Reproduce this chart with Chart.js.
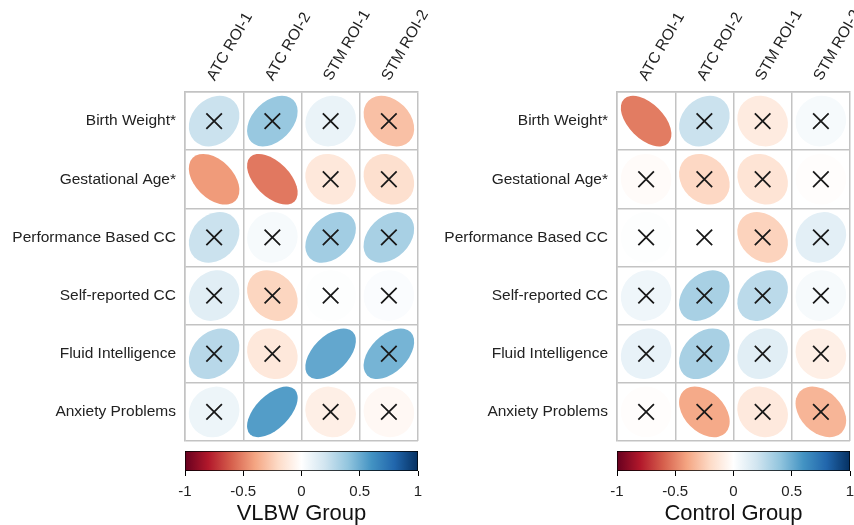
<!DOCTYPE html>
<html>
<head>
<meta charset="utf-8">
<script src="https://cdn.jsdelivr.net/npm/chart.js@4.4.1/dist/chart.umd.min.js"></script>
<style>
  html, body { margin: 0; padding: 0; background: #fff; }
  #wrap { position: relative; width: 854px; height: 525px; overflow: hidden; }
  canvas { position: absolute; }
</style>
</head>
<body>
<div id="wrap">
  <canvas id="vlbwGrid" width="430" height="445" style="left:0;top:0"></canvas>
  <canvas id="controlGrid" width="424" height="445" style="left:430px;top:0"></canvas>
  <canvas id="vlbwBar" width="430" height="80" style="left:0;top:445px"></canvas>
  <canvas id="controlBar" width="424" height="80" style="left:430px;top:445px"></canvas>
</div>
<script>
const rowLabels = ['Birth Weight*', 'Gestational Age*', 'Performance Based CC', 'Self-reported CC', 'Fluid Intelligence', 'Anxiety Problems'];
const colLabels = ['ATC ROI-1', 'ATC ROI-2', 'STM ROI-1', 'STM ROI-2'];

// correlations, one row per measure
const vlbwCorr = [
  [0.22, 0.38, 0.09, -0.30],
  [-0.43, -0.53, -0.13, -0.17],
  [0.22, 0.04, 0.35, 0.33],
  [0.13, -0.22, 0.01, 0.02],
  [0.28, -0.13, 0.52, 0.47],
  [0.08, 0.56, -0.09, -0.04]
];
const vlbwNotSig = [
  [1, 1, 1, 1],
  [0, 0, 1, 1],
  [1, 1, 1, 1],
  [1, 1, 1, 1],
  [1, 1, 0, 1],
  [1, 0, 1, 1]
];
const controlCorr = [
  [-0.52, 0.22, -0.11, 0.04],
  [-0.02, -0.21, -0.15, -0.01],
  [0.01, 0.00, -0.23, 0.12],
  [0.07, 0.33, 0.27, 0.04],
  [0.10, 0.33, 0.13, -0.09],
  [-0.01, -0.38, -0.12, -0.34]
];
const controlNotSig = [
  [0, 1, 1, 1],
  [1, 1, 1, 1],
  [1, 1, 1, 1],
  [1, 1, 1, 1],
  [1, 1, 1, 1],
  [1, 1, 1, 1]
];
const scaleTicks = [-1, -0.5, 0, 0.5, 1];

const rdbu = ['#67001F', '#B2182B', '#D6604D', '#F4A582', '#FDDBC7', '#FFFFFF',
              '#D1E5F0', '#92C5DE', '#4393C3', '#2166AC', '#053061'];
const FONT = '"Liberation Sans", Arial, sans-serif';
const GRID = '#c3c3c3';

function hexRgb(h) {
  return [1, 3, 5].map(i => parseInt(h.substr(i, 2), 16));
}
function colorFor(r) {
  const t = (Math.max(-1, Math.min(1, r)) + 1) / 2 * (rdbu.length - 1);
  const i = Math.min(Math.floor(t), rdbu.length - 2);
  const f = t - i;
  const a = hexRgb(rdbu[i]), b = hexRgb(rdbu[i + 1]);
  const c = a.map((v, k) => Math.round(v + (b[k] - v) * f));
  return 'rgb(' + c.join(',') + ')';
}

// corrplot-style ellipses, drawn under the crosses
const ellipsePlugin = {
  id: 'corrEllipses',
  beforeDatasetsDraw(chart) {
    const meta = chart.getDatasetMeta(0);
    const xs = chart.scales.x, ys = chart.scales.y;
    const cw = Math.abs(xs.getPixelForValue(1) - xs.getPixelForValue(0));
    const ch = Math.abs(ys.getPixelForValue(1) - ys.getPixelForValue(0));
    const s = Math.min(cw, ch) * 0.87;
    const ctx = chart.ctx;
    meta.data.forEach((pt, i) => {
      const r = chart.data.datasets[0].data[i].v;
      const a = Math.acos(Math.abs(r)) / 2;
      const major = Math.cos(a) / Math.SQRT2 * s;
      const minor = Math.sin(a) / Math.SQRT2 * s;
      ctx.save();
      ctx.fillStyle = colorFor(r);
      ctx.beginPath();
      ctx.ellipse(pt.x, pt.y, major, minor, r >= 0 ? -Math.PI / 4 : Math.PI / 4, 0, 2 * Math.PI);
      ctx.fill();
      ctx.restore();
    });
  }
};

function makeGrid(id, corr, notSig, axisWidth, padRight) {
  const cells = [], crosses = [];
  corr.forEach((row, i) => row.forEach((v, j) => {
    cells.push({ x: colLabels[j], y: rowLabels[i], v: v });
    if (notSig[i][j]) crosses.push({ x: colLabels[j], y: rowLabels[i] });
  }));
  new Chart(document.getElementById(id), {
    type: 'scatter',
    data: {
      datasets: [
        { data: cells, pointRadius: 0 },
        { data: crosses, pointStyle: 'crossRot', pointRadius: 11, borderColor: '#1a1a1a', borderWidth: 1.8 }
      ]
    },
    options: {
      responsive: false,
      animation: false,
      events: [],
      layout: { autoPadding: false, padding: { left: 0, right: padRight, top: 0, bottom: 4 } },
      plugins: { legend: { display: false }, tooltip: { enabled: false } },
      scales: {
        x: {
          type: 'category', labels: colLabels, position: 'top', offset: true,
          grid: { offset: true, color: GRID, lineWidth: 1.5, drawTicks: false },
          border: { display: true, color: GRID, width: 1.5 },
          ticks: { color: '#222', font: { family: FONT, size: 15.5 }, minRotation: 60, maxRotation: 60,
                   padding: 8, labelOffset: 13, autoSkip: false },
          afterFit(scale) { scale.height = 92; scale.paddingLeft = 0; scale.paddingRight = 0; }
        },
        y: {
          type: 'category', labels: rowLabels, offset: true,
          grid: { offset: true, color: GRID, lineWidth: 1.5, drawTicks: false },
          border: { display: true, color: GRID, width: 1.5 },
          ticks: { color: '#222', font: { family: FONT, size: 15.5 }, padding: 9, autoSkip: false },
          afterFit(scale) { scale.width = axisWidth; scale.paddingTop = 0; scale.paddingBottom = 0; }
        }
      }
    },
    plugins: [ellipsePlugin]
  });
}

function barGradient(chart) {
  const area = chart.chartArea;
  if (!area) return rdbu[5];
  const g = chart.ctx.createLinearGradient(area.left, 0, area.right, 0);
  rdbu.forEach((c, i) => g.addColorStop(i / (rdbu.length - 1), c));
  return g;
}

function makeColorbar(id, title, padLeft, padRight) {
  new Chart(document.getElementById(id), {
    type: 'bar',
    data: {
      labels: [''],
      datasets: [{
        data: [[scaleTicks[0], scaleTicks[scaleTicks.length - 1]]],
        backgroundColor: ctx => barGradient(ctx.chart),
        borderColor: '#000', borderWidth: 1, borderSkipped: false,
        barPercentage: 1, categoryPercentage: 1
      }]
    },
    options: {
      indexAxis: 'y',
      responsive: false,
      animation: false,
      events: [],
      layout: { autoPadding: false, padding: { left: padLeft, right: padRight, top: 6, bottom: 0 } },
      plugins: { legend: { display: false }, tooltip: { enabled: false } },
      scales: {
        x: {
          type: 'linear', min: -1, max: 1, position: 'bottom',
          afterBuildTicks(scale) { scale.ticks = scaleTicks.map(v => ({ value: v })); },
          grid: { drawOnChartArea: false, drawTicks: true, tickLength: 5, color: '#000' },
          border: { display: false },
          ticks: { color: '#222', font: { family: FONT, size: 15 }, padding: 7, callback: v => String(v) },
          title: { display: true, text: title, color: '#111', font: { family: FONT, size: 22, lineHeight: 1.0 }, padding: 0 },
          afterFit(scale) { scale.height = 54; scale.paddingLeft = 0; scale.paddingRight = 0; }
        },
        y: { display: false }
      }
    }
  });
}

makeGrid('vlbwGrid', vlbwCorr, vlbwNotSig, 185, 12);
makeGrid('controlGrid', controlCorr, controlNotSig, 187, 4);
makeColorbar('vlbwBar', 'VLBW Group', 185, 12);
makeColorbar('controlBar', 'Control Group', 187, 4);
</script>
</body>
</html>
